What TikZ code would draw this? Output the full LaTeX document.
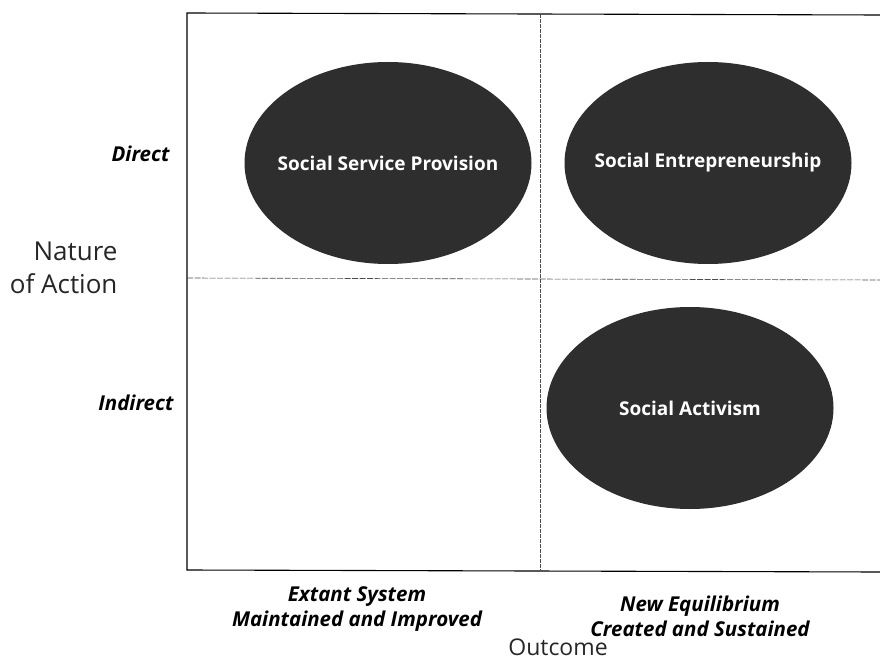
\documentclass[tikz,border=0pt]{standalone}
\usepackage{fontspec}
\setmainfont{Open Sans}
\usetikzlibrary{shapes.geometric, positioning}
\definecolor{blobgray}{HTML}{2E2E2E}
\tikzset{
  blob/.style={ellipse, fill=blobgray, minimum width=287pt, minimum height=202pt, inner sep=0pt},
  blobtext/.style={text=white, font=\fontsize{19}{22}\selectfont\bfseries},
  axislabel/.style={font=\fontsize{20.5}{25}\selectfont\bfseries\itshape, align=center},
  axistitle/.style={font=\fontsize{26}{33}\selectfont\addfontfeatures{Weight=Light}, align=center, text=black!85}
}
\begin{document}
\begin{tikzpicture}[x=1pt, y=-1pt]
  \useasboundingbox (0,0) rectangle (880,660);
  % frame
  \draw[line width=1.1pt] (880,15) -- (187,13) -- (187,570) -- (880,572);
  % quadrant dividers
  \draw[black!70, line width=0.6pt, dash pattern=on 4pt off 1pt] (540,14) -- (540,571);
  \draw[black!70, line width=0.6pt, dash pattern=on 6pt off 1.5pt] (187,278) -- (880,280);
  % quadrants
  \node[blob, label={[blobtext]center:Social Service Provision}] (provision) at (388,163) {};
  \node[blob, label={[blobtext]center:Social Entrepreneurship}] (entrepreneur) at (708,163) {};
  \node[blob, label={[blobtext]center:Social Activism}] (activism) at (690,408) {};
  % vertical axis
  \node[axislabel, anchor=east] (direct) at (173,154) {Direct};
  \node[axislabel, anchor=east] (indirect) at (177,403) {Indirect};
  \node[axistitle, align=right, anchor=east] (nature) at (121,268) {Nature\\of Action};
  % horizontal axis
  \node[axislabel] (extant) at (357,609) {Extant System\\Maintained and Improved};
  \node[axislabel] (newequ) at (700,616) {New Equilibrium\\Created and Sustained};
  \node[axistitle, anchor=base, inner sep=0pt, font=\fontsize{23}{28}\selectfont\addfontfeatures{Weight=Light}] (outcome) at (558,655) {Outcome};
\end{tikzpicture}
\end{document}
